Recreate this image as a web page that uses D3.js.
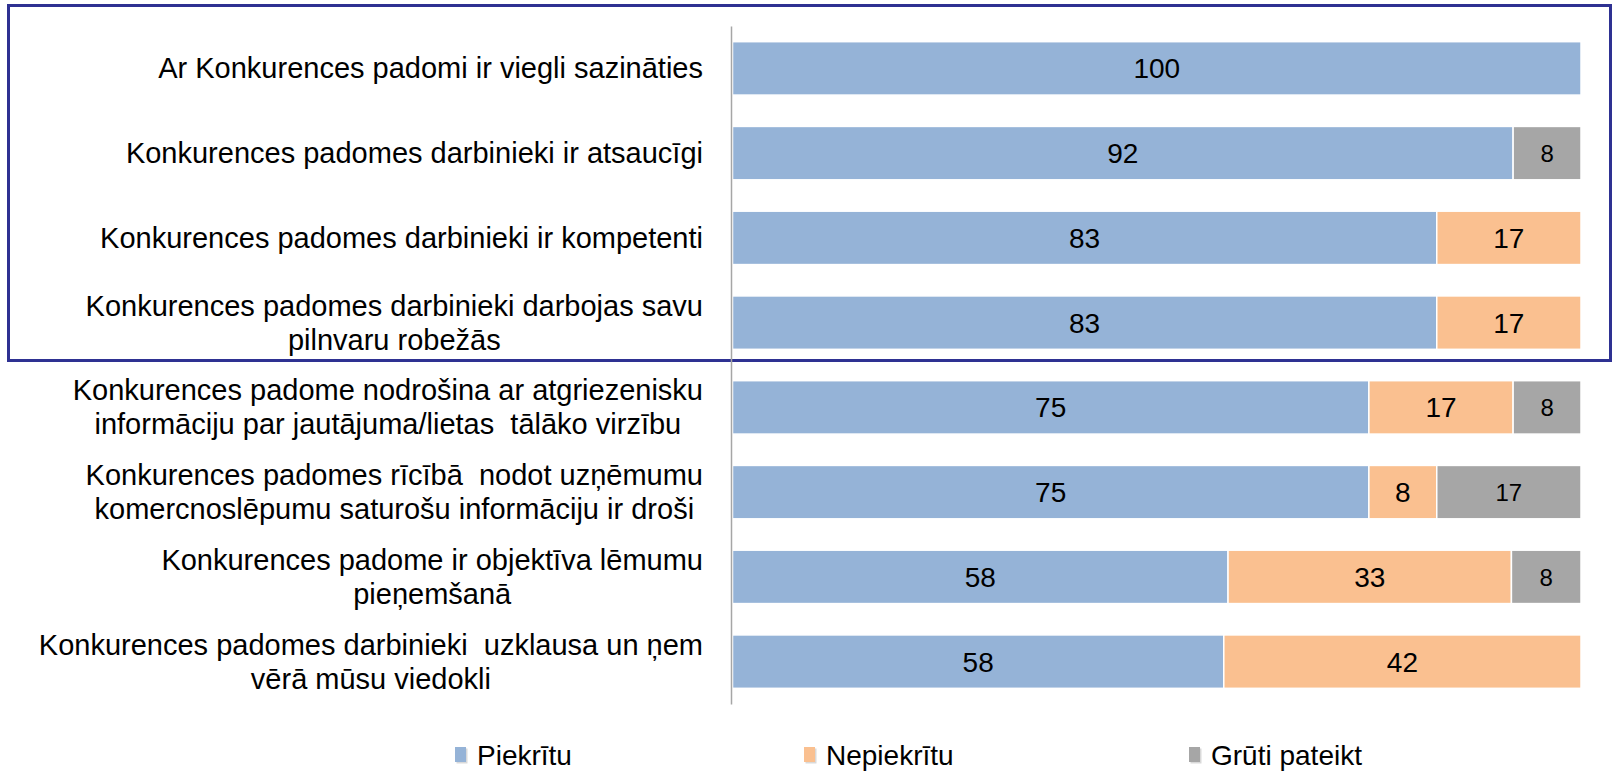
<!DOCTYPE html>
<html>
<head>
<meta charset="utf-8">
<script src="https://cdn.jsdelivr.net/npm/d3@7"></script>
<style>
  body { margin: 0; background: #fff; }
  svg { display: block; font-family: "Liberation Sans", Arial, sans-serif; }
</style>
</head>
<body>
<div class="chart"></div>
<script>
// statements (each entry = lines of the wrapped label)
var categories = [
  ["Ar Konkurences padomi ir viegli sazināties"],
  ["Konkurences padomes darbinieki ir atsaucīgi"],
  ["Konkurences padomes darbinieki ir kompetenti"],
  ["Konkurences padomes darbinieki darbojas savu", "pilnvaru robežās"],
  ["Konkurences padome nodrošina ar atgriezenisku", "informāciju par jautājuma/lietas  tālāko virzību"],
  ["Konkurences padomes rīcībā  nodot uzņēmumu", "komercnoslēpumu saturošu informāciju ir droši"],
  ["Konkurences padome ir objektīva lēmumu", "pieņemšanā"],
  ["Konkurences padomes darbinieki  uzklausa un ņem", "vērā mūsu viedokli"]
];
var seriesNames = ["Piekrītu", "Nepiekrītu", "Grūti pateikt"];
var piekritu   = [100, 92, 83, 83, 75, 75, 58.4, 57.9];
var nepiekritu = [0, 0, 17, 17, 17, 8, 33.4, 42.1];
var gruti      = [0, 8, 0, 0, 8, 17, 8.2, 0];
var colors = ["#95b3d7", "#fac090", "#a6a6a6"];

var W = 1612, H = 771;

var rows = categories.map(function(c, i) {
  return { key: c.join(" "), lines: c, "Piekrītu": piekritu[i], "Nepiekrītu": nepiekritu[i], "Grūti pateikt": gruti[i] };
});

var svg = d3.select(".chart").append("svg")
    .attr("width", W)
    .attr("height", H);

svg.append("rect").attr("width", W).attr("height", H).attr("fill", "#fff");

// navy frame round the first four rows
svg.append("rect")
    .attr("x", 8.5).attr("y", 5.5)
    .attr("width", 1602).attr("height", 355)
    .attr("fill", "none")
    .attr("stroke", "#2e3192")
    .attr("stroke-width", 3);

var xScale = d3.scaleLinear().domain([0, 100]).range([732.5, 1581]);
var yScale = d3.scaleBand()
    .domain(rows.map(function(d) { return d.key; }))
    .range([26, 704])
    .paddingInner(0.37)
    .paddingOuter(0.185);

var stack = d3.stack().keys(seriesNames)(rows);

var layer = svg.selectAll(".layer")
    .data(stack)
  .enter().append("g")
    .attr("class", "layer")
    .attr("fill", function(d, i) { return colors[i]; });

layer.selectAll("rect")
    .data(function(d) { return d.filter(function(p) { return p[1] - p[0] > 0; }); })
  .enter().append("rect")
    .attr("x", function(d) { return xScale(d[0]); })
    .attr("y", function(d) { return yScale(d.data.key); })
    .attr("width", function(d) { return xScale(d[1]) - xScale(d[0]); })
    .attr("height", yScale.bandwidth())
    .attr("stroke", "#fff")
    .attr("stroke-width", 1.5);

// value labels
var fmt = d3.format(".0f");
layer.each(function(s, si) {
  d3.select(this).selectAll("text")
      .data(s.filter(function(p) { return p[1] - p[0] > 0; }))
    .enter().append("text")
      .attr("x", function(d) { return (xScale(d[0]) + xScale(d[1])) / 2; })
      .attr("y", function(d) { return yScale(d.data.key) + yScale.bandwidth() / 2; })
      .attr("dy", "0.36em")
      .attr("text-anchor", "middle")
      .attr("fill", "#000")
      .style("font-size", si == 2 ? "24px" : "28px")
      .text(function(d) { return fmt(d[1] - d[0]); });
});

// category axis
var axis = svg.append("g")
    .attr("transform", "translate(731,0)")
    .call(d3.axisLeft(yScale).tickSize(0).tickSizeOuter(0).tickPadding(0));
axis.select(".domain").attr("stroke", "#a6a6a6").attr("stroke-width", 1.5);

axis.selectAll(".tick text").each(function(key, i) {
  var t = d3.select(this).text(null)
      .attr("fill", "#000")
      .attr("text-anchor", "middle")
      .attr("dy", null)
      .style("font-size", "29px")
      .style("white-space", "pre")
      .style("font-family", "'Liberation Sans', Arial, sans-serif");
  var lines = rows[i].lines;
  var spans = lines.map(function(l, j) {
    return t.append("tspan").attr("y", (j - (lines.length - 1) / 2) * 34 + 10).text(l);
  });
  var maxW = d3.max(spans, function(s) { return s.node().getComputedTextLength(); });
  spans.forEach(function(s) { s.attr("x", -28 - maxW / 2); });
});

// legend
var legendX = [455, 804, 1189];
var legend = svg.selectAll(".legend")
    .data(seriesNames)
  .enter().append("g")
    .attr("class", "legend")
    .attr("transform", function(d, i) { return "translate(" + legendX[i] + ",0)"; });

legend.append("rect")
    .attr("x", 1.5).attr("y", 748.5)
    .attr("width", 11).attr("height", 15)
    .attr("fill", "#d9d9d9");
legend.append("rect")
    .attr("x", 0).attr("y", 747)
    .attr("width", 11).attr("height", 15)
    .attr("fill", function(d, i) { return colors[i]; });

legend.append("text")
    .attr("x", 22).attr("y", 765)
    .style("font-size", "28px")
    .attr("fill", "#000")
    .text(function(d) { return d; });
</script>
</body>
</html>
